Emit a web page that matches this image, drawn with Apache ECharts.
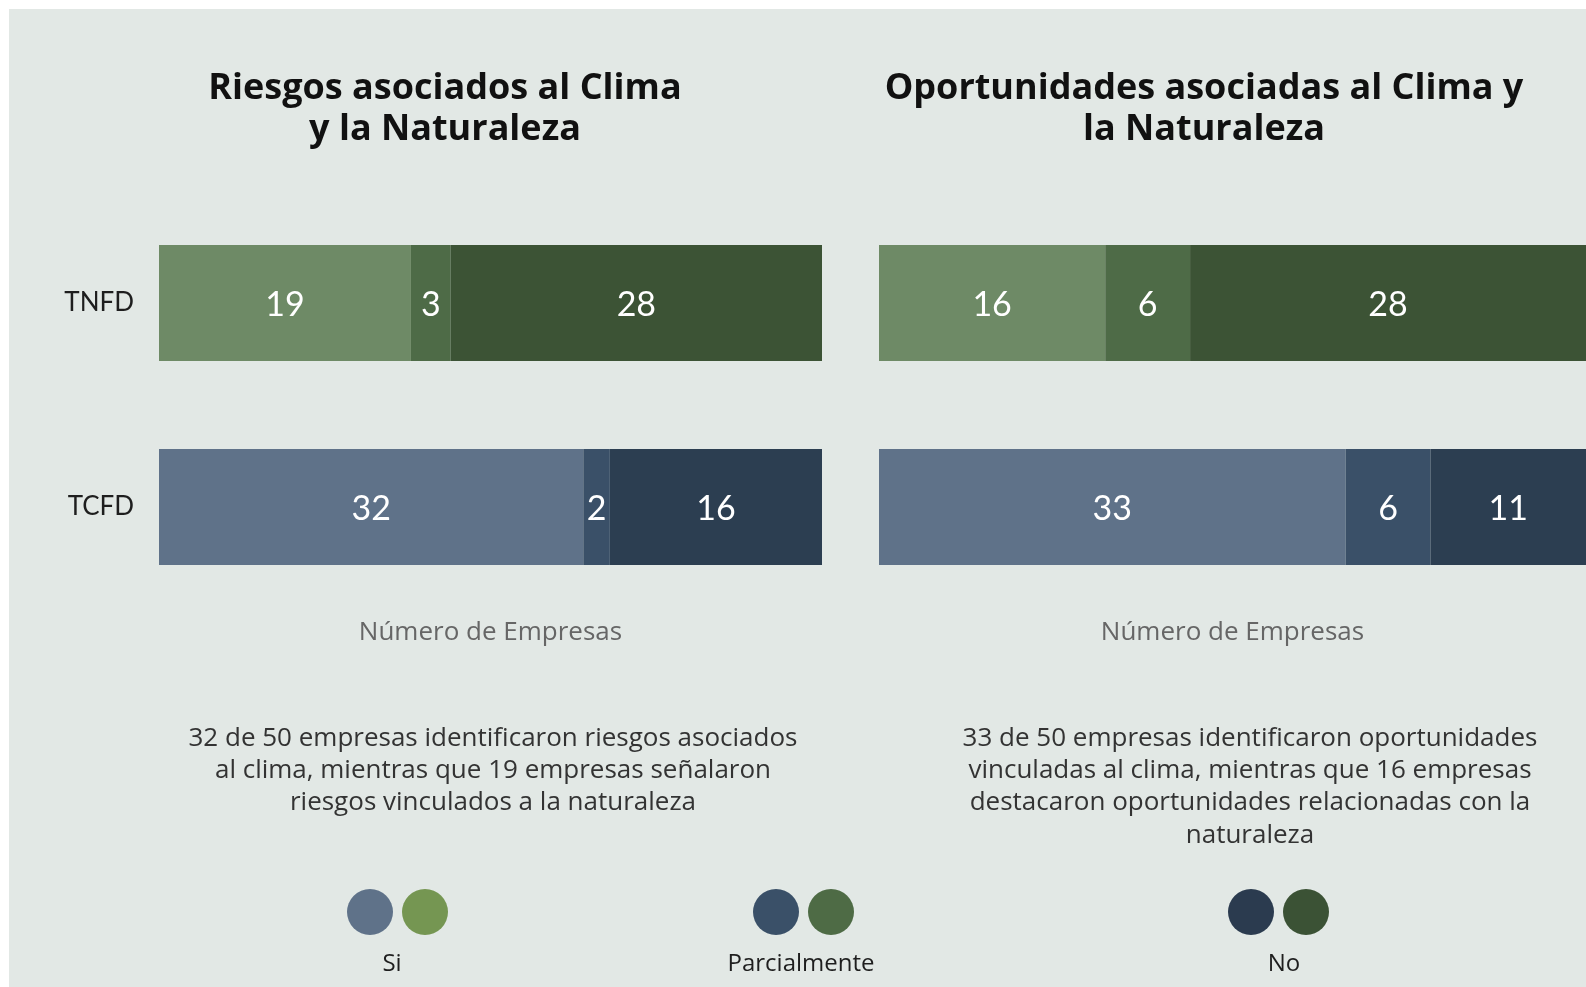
<!DOCTYPE html>
<html>
<head>
<meta charset="utf-8">
<script src="https://cdn.jsdelivr.net/npm/echarts@6/dist/echarts.min.js"></script>
<style>
  html, body { margin: 0; padding: 0; background: #ffffff; }
  #bg { position: absolute; left: 9px; top: 9px; right: 0; bottom: 0; background: #e2e8e5; }
  #main { position: absolute; left: 0; top: 0; width: 1586px; height: 987px; }
</style>
</head>
<body>
<div id="bg"></div>
<div id="main"></div>
<script>
// categorias (de abajo hacia arriba)
var categories = ['TCFD', 'TNFD'];
var seriesNames = ['Si', 'Parcialmente', 'No'];

// Riesgos asociados al Clima y la Naturaleza  [TCFD, TNFD]
var riesgosSi = [32, 19];
var riesgosParcial = [2, 3];
var riesgosNo = [16, 28];

// Oportunidades asociadas al Clima y la Naturaleza  [TCFD, TNFD]
var oportSi = [33, 16];
var oportParcial = [6, 6];
var oportNo = [11, 28];

var totalEmpresas = 50;

// colores: [TCFD (azul), TNFD (verde)]
var barColors = {
  'Si': ['#5f7289', '#6e8a66'],
  'Parcialmente': ['#3a5068', '#4e6b47'],
  'No': ['#2c3e51', '#3c5335']
};
var legendColors = {
  'Si': ['#5f7289', '#759652'],
  'Parcialmente': ['#3a5068', '#4e6b45'],
  'No': ['#2b3b4f', '#3b5235']
};

var FONT = '"Open Sans", Lato, sans-serif';
var NUM_FONT = 'Lato, sans-serif';

function coloredData(values, name) {
  return values.map(function (v, i) {
    return { value: v, itemStyle: { color: barColors[name][i] } };
  });
}

function makeSeries(values, name, idx) {
  return {
    name: name,
    type: 'bar',
    stack: 'g' + idx,
    xAxisIndex: idx,
    yAxisIndex: idx,
    barWidth: 116,
    data: coloredData(values, name),
    label: {
      show: true,
      position: 'inside',
      offset: [0, 2],
      color: '#ffffff',
      fontFamily: NUM_FONT,
      fontSize: 34
    },
    emphasis: { disabled: true }
  };
}

var series = [
  makeSeries(riesgosSi, 'Si', 0),
  makeSeries(riesgosParcial, 'Parcialmente', 0),
  makeSeries(riesgosNo, 'No', 0),
  makeSeries(oportSi, 'Si', 1),
  makeSeries(oportParcial, 'Parcialmente', 1),
  makeSeries(oportNo, 'No', 1)
];

function xAxisCfg(idx) {
  return {
    type: 'value',
    gridIndex: idx,
    min: 0,
    max: totalEmpresas,
    name: 'Número de Empresas',
    nameLocation: 'middle',
    nameGap: 11,
    nameTextStyle: { color: '#666666', fontFamily: FONT, fontSize: 26 },
    axisLine: { show: false },
    axisTick: { show: false },
    axisLabel: { show: false },
    splitLine: { show: false }
  };
}

function yAxisCfg(idx, showLabels) {
  return {
    type: 'category',
    gridIndex: idx,
    data: categories,
    axisLine: { show: false },
    axisTick: { show: false },
    axisLabel: {
      show: showLabels,
      margin: 25,
      color: '#1e1e1e',
      fontFamily: NUM_FONT,
      fontSize: 26
    }
  };
}

// leyenda: dos circulos por categoria
var legendPos = [
  { name: 'Si', x: 370, label: 392 },
  { name: 'Parcialmente', x: 776, label: 801 },
  { name: 'No', x: 1251, label: 1284 }
];
var graphic = [];
legendPos.forEach(function (p) {
  graphic.push({ type: 'circle', shape: { cx: p.x, cy: 912, r: 23 }, style: { fill: legendColors[p.name][0] }, silent: true });
  graphic.push({ type: 'circle', shape: { cx: p.x + 55, cy: 912, r: 23 }, style: { fill: legendColors[p.name][1] }, silent: true });
  graphic.push({
    type: 'text', x: p.label, y: 964,
    style: { text: p.name, fill: '#1e1e1e', font: '24px ' + FONT, align: 'center', verticalAlign: 'middle' },
    silent: true
  });
});

var chart = echarts.init(document.getElementById('main'));
chart.setOption({
  backgroundColor: 'transparent',
  animation: false,
  title: [
    {
      text: 'Riesgos asociados al Clima\ny la Naturaleza',
      left: 440, top: 63, textAlign: 'center',
      textStyle: { fontFamily: FONT, fontWeight: 'bold', fontSize: 36, lineHeight: 41, color: '#111111' }
    },
    {
      text: 'Oportunidades asociadas al Clima y\nla Naturaleza',
      left: 1199, top: 63, textAlign: 'center',
      textStyle: { fontFamily: FONT, fontWeight: 'bold', fontSize: 36, lineHeight: 41, color: '#111111' }
    },
    {
      text: '32 de 50 empresas identificaron riesgos asociados\nal clima, mientras que 19 empresas señalaron\nriesgos vinculados a la naturaleza',
      left: 488, top: 717, textAlign: 'center',
      textStyle: { fontFamily: FONT, fontWeight: 'normal', fontSize: 26, lineHeight: 32.4, color: '#333333' }
    },
    {
      text: '33 de 50 empresas identificaron oportunidades\nvinculadas al clima, mientras que 16 empresas\ndestacaron oportunidades relacionadas con la\nnaturaleza',
      left: 1245, top: 717, textAlign: 'center',
      textStyle: { fontFamily: FONT, fontWeight: 'normal', fontSize: 26, lineHeight: 32.4, color: '#333333' }
    }
  ],
  grid: [
    { left: 159, top: 201, width: 663, height: 408 },
    { left: 879, top: 201, width: 708, height: 408 }
  ],
  xAxis: [xAxisCfg(0), xAxisCfg(1)],
  yAxis: [yAxisCfg(0, true), yAxisCfg(1, false)],
  series: series,
  graphic: graphic
});
</script>
</body>
</html>
